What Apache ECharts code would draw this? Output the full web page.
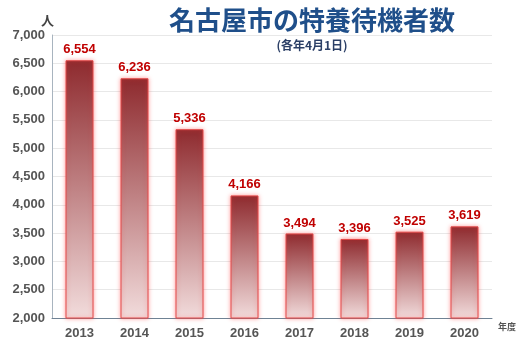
<!DOCTYPE html>
<html><head><meta charset="utf-8">
<script src="https://cdn.jsdelivr.net/npm/echarts@6/dist/echarts.min.js"></script>
<style>html,body{margin:0;padding:0;background:#fff}#c{width:520px;height:344px}</style>
</head><body><div id="c"></div>
<script>
var categories = ['2013','2014','2015','2016','2017','2018','2019','2020'];
var values = [6554, 6236, 5336, 4166, 3494, 3396, 3525, 3619];
var titleText = '名古屋市の特養待機者数';
var subtitleText = '(各年4月1日)';
var yUnit = '人';
var xUnit = '年度';

var chart = echarts.init(document.getElementById('c'));
chart.setOption({
  animation: false,
  backgroundColor: '#fff',
  title: {
    text: titleText,
    subtext: subtitleText,
    left: 307, top: 2, textAlign: 'center',
    itemGap: 6,
    textStyle: {fontFamily: 'Noto Sans CJK JP', fontWeight: 'bold', fontSize: 26, color: '#1f4f8a'},
    subtextStyle: {fontFamily: 'Noto Sans CJK JP', fontWeight: 'bold', fontSize: 12, color: '#2b3f66'}
  },
  grid: {left: 52, right: 28, top: 35, bottom: 26},
  xAxis: {
    type: 'category', data: categories,
    name: xUnit, nameLocation: 'end', nameGap: 6,
    nameTextStyle: {fontFamily: 'Noto Sans CJK JP', fontSize: 9, color: '#555', fontWeight: 'bold', verticalAlign: 'top', padding: [4,0,0,0]},
    axisLine: {lineStyle: {color: '#6f8294', width: 1}},
    axisTick: {show: false},
    axisLabel: {fontFamily: 'Liberation Sans', fontWeight: 'bold', fontSize: 13, color: '#555', margin: 9}
  },
  yAxis: {
    type: 'value', min: 2000, max: 7000, interval: 500,
    name: yUnit, nameLocation: 'end', nameGap: 8,
    nameTextStyle: {fontFamily: 'Noto Sans CJK JP', fontSize: 13, fontWeight: 'bold', color: '#444', align: 'right', padding: [0,-2,0,0]},
    axisLine: {show: true, lineStyle: {color: '#a8b4bf'}},
    axisTick: {show: false},
    splitLine: {lineStyle: {color: '#e8e8e8'}},
    axisLabel: {fontFamily: 'Liberation Sans', fontWeight: 'bold', fontSize: 13, color: '#555', margin: 7,
      formatter: function(v){ return v.toLocaleString('en-US'); }}
  },
  series: [{
    type: 'bar', data: values, barWidth: 28,
    itemStyle: {
      color: new echarts.graphic.LinearGradient(0,0,0,1,[
        {offset: 0, color: '#8e2a2e'},
        {offset: 1, color: '#f2dcdc'}
      ]),
      borderColor: '#e24a4a', borderWidth: 1,
      shadowColor: 'rgba(255,60,60,0.5)', shadowBlur: 4
    },
    label: {show: true, position: 'top', distance: 4,
      fontFamily: 'Liberation Sans', fontWeight: 'bold', fontSize: 13, color: '#c00000',
      formatter: function(p){ return p.value.toLocaleString('en-US'); }}
  }]
});
</script></body></html>
